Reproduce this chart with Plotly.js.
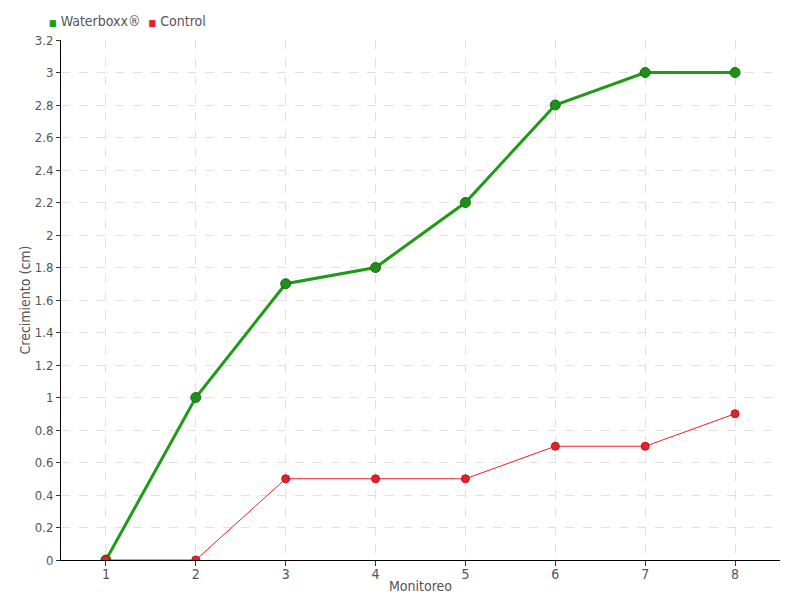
<!DOCTYPE html>
<html><head><meta charset="utf-8">
<script src="https://cdn.plot.ly/plotly-3.0.1.min.js"></script>
<style>html,body{margin:0;padding:0;background:#fff}#chart{width:800px;height:600px}</style>
</head><body><div id="chart"></div>
<script>
const monitoreo = [1, 2, 3, 4, 5, 6, 7, 8];
const waterboxx = [0, 1, 1.7, 1.8, 2.2, 2.8, 3, 3];
const control = [0, 0, 0.5, 0.5, 0.5, 0.7, 0.7, 0.9];
const yTicks = [0, 0.2, 0.4, 0.6, 0.8, 1, 1.2, 1.4, 1.6, 1.8, 2, 2.2, 2.4, 2.6, 2.8, 3, 3.2];
const seriesNames = ['Waterboxx®', 'Control'];

const FONT = '"DejaVu Sans Condensed", "Liberation Sans Narrow", sans-serif';
const GREEN = '#1e9b14', RED = '#e8202c';

const traces = [
  {x: monitoreo, y: waterboxx, name: seriesNames[0], mode: 'lines+markers', showlegend: false,
   line: {color: GREEN, width: 3},
   marker: {color: '#1f8f17', size: 10, line: {color: '#176e12', width: 1}}},
  {x: monitoreo, y: control, name: seriesNames[1], mode: 'lines+markers', showlegend: false,
   line: {color: RED, width: 1},
   marker: {color: RED, size: 8, line: {color: '#c0101c', width: 1}}}
];

const layout = {
  width: 800, height: 600,
  margin: {l: 61, r: 20, t: 40, b: 40},
  paper_bgcolor: '#fff', plot_bgcolor: '#fff',
  font: {family: FONT, size: 14, color: '#555'},
  showlegend: false,
  xaxis: {range: [0.5, 8.5], tickvals: monitoreo, ticktext: monitoreo.map(String),
    showline: true, linecolor: '#000', linewidth: 1, ticks: 'outside', ticklen: 5, tickcolor: '#333',
    ticklabelstandoff: -4,
    showgrid: true, gridcolor: '#e0e0e0', griddash: 'dash', zeroline: false,
    tickfont: {family: FONT, size: 14, color: '#555'},
    title: {text: 'Monitoreo', font: {family: FONT, size: 14, color: '#555'}, standoff: 0}},
  yaxis: {range: [0, 3.2], tickvals: yTicks, ticktext: yTicks.map(String),
    showline: true, linecolor: '#000', linewidth: 1, ticks: 'outside', ticklen: 4, tickcolor: '#333',
    showgrid: true, gridcolor: '#e0e0e0', griddash: 'dash', zeroline: false,
    tickfont: {family: FONT, size: 13, color: '#555'},
    title: {text: 'Crecimiento (cm)', font: {family: FONT, size: 14, color: '#555'}, standoff: 0}},
  annotations: [
    {xref: 'paper', yref: 'paper', x: -0.02, y: 1.0365, xanchor: 'left', yanchor: 'middle', showarrow: false,
     text: '<span style="color:' + GREEN + ';font-size:9px">■</span> ' + seriesNames[0] +
           '  <span style="color:' + RED + ';font-size:9px">■</span> ' + seriesNames[1],
     font: {family: FONT, size: 14, color: '#555'}}
  ]
};
Plotly.newPlot('chart', traces, layout, {displayModeBar: false});
</script></body></html>
